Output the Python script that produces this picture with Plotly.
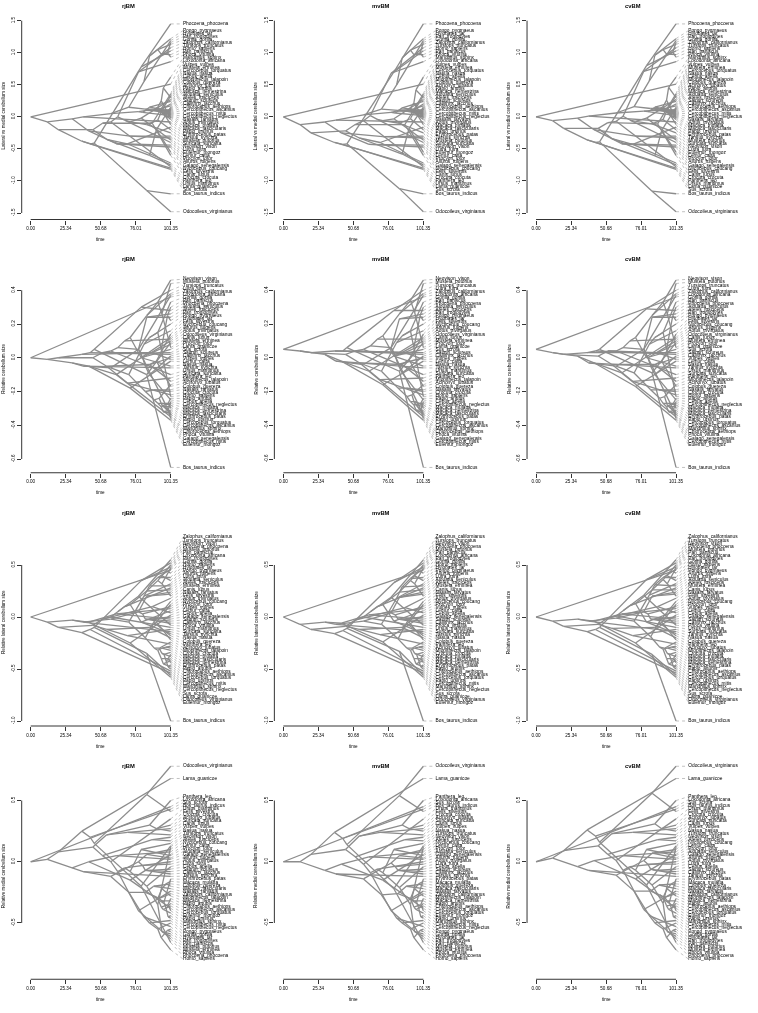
import plotly.graph_objects as go

# ---------------- tree topology (shared by all panels) ----------------
TIP_TIME = 101.35
NODES = ["Root", "Boreo", "Laura", "Cetart", "Artiof", "Cetrum", "Rumin", "Cetacea",
         "Carniv", "Feli", "Felid", "Felin", "Hyaen", "Cani", "Canid", "Arcto", "PinMus", "Pinn",
         "Mustel", "MusPro", "Procy", "Mustelid", "Mustela", "MustelaS",
         "Prim", "Strep", "Lemur", "Loris", "Haplo", "Anthro", "Platy", "Cebid", "CebCal", "CebSai", "Atelid",
         "Catar", "Hominoid", "Hominid", "Homin", "HomPan", "Pan",
         "Cercop", "Colob", "Cerc", "Papion", "Macaca", "Macaca2", "PapMC", "Papio", "ManCer",
         "Cercopini", "Cerc24", "Cerc25", "Cerc26", "Cerc27"]
NODE_PARENT = [None, "Root", "Boreo", "Laura", "Cetart", "Artiof", "Cetrum", "Cetrum",
               "Laura", "Carniv", "Feli", "Felid", "Feli", "Carniv", "Cani", "Cani", "Arcto", "PinMus",
               "PinMus", "Mustel", "MusPro", "MusPro", "Mustelid", "Mustela",
               "Boreo", "Prim", "Strep", "Strep", "Prim", "Haplo", "Anthro", "Platy", "Cebid", "CebCal", "Platy",
               "Anthro", "Catar", "Hominoid", "Hominid", "Homin", "HomPan",
               "Catar", "Cercop", "Cercop", "Cerc", "Papion", "Macaca", "Papion", "PapMC", "PapMC",
               "Cerc", "Cercopini", "Cerc24", "Cerc25", "Cerc26"]
NODE_TIME = [0.0, 12.0, 20.0, 37.0, 43.0, 46.0, 84.0, 80.0,
             45.0, 55.0, 86.0, 91.0, 70.0, 52.0, 88.0, 58.0, 63.0, 78.0,
             68.0, 72.0, 80.0, 84.0, 92.0, 95.0,
             30.0, 42.0, 72.0, 62.0, 38.0, 58.0, 78.0, 81.0, 83.0, 86.0, 84.0,
             71.0, 82.0, 86.0, 92.0, 94.5, 99.0,
             83.0, 89.0, 89.5, 92.0, 95.0, 98.0, 94.5, 99.5, 96.0,
             93.0, 95.0, 96.5, 98.0, 99.5]
TIPS = ["Loxodonta_africana", "Lama_guanicoe", "Sus_scrofa", "Bos_taurus_indicus", "Odocoileus_virginianus",
        "Phocoena_phocoena", "Tursiops_truncatus", "Panthera_leo", "Felis_silvestris", "Acinonyx_jubatus",
        "Crocuta_crocuta", "Suricata_suricatta", "Canis_lupus", "Vulpes_vulpes", "Ursus_maritimus",
        "Zalophus_californianus", "Phoca_vitulina", "Ailurus_fulgens", "Procyon_lotor", "Nasua_nasua",
        "Lutra_lutra", "Neovison_vison", "Mustela_putorius", "Mustela_erminea", "Eulemur_mongoz",
        "Lemur_catta", "Galago_senegalensis", "Nycticebus_coucang", "Tarsius_syrichta", "Aotus_trivirgatus",
        "Callithrix_jacchus", "Cebus_apella", "Saimiri_sciureus", "Ateles_fusciceps", "Alouatta_seniculus",
        "Hylobates_lar", "Pongo_pygmaeus", "Gorilla_gorilla", "Homo_sapiens", "Pan_troglodytes",
        "Pan_paniscus", "Colobus_guereza", "Nasalis_larvatus", "Macaca_nemestrina", "Macaca_mulatta",
        "Macaca_fascicularis", "Papio_anubis", "Papio_ursinus", "Mandrillus_sphinx", "Cercocebus_torquatus",
        "Miopithecus_talapoin", "Chlorocebus_aethiops", "Erythrocebus_patas", "Cercopithecus_ascanius",
        "Cercopithecus_mitis", "Cercopithecus_neglectus"]
TIP_PARENT = ["Root", "Cetart", "Artiof", "Rumin", "Rumin",
              "Cetacea", "Cetacea", "Felid", "Felin", "Felin",
              "Hyaen", "Hyaen", "Canid", "Canid", "Arcto",
              "Pinn", "Pinn", "Mustel", "Procy", "Procy",
              "Mustelid", "Mustela", "MustelaS", "MustelaS", "Lemur",
              "Lemur", "Loris", "Loris", "Haplo", "Cebid",
              "CebCal", "CebSai", "CebSai", "Atelid", "Atelid",
              "Hominoid", "Hominid", "Homin", "HomPan", "Pan",
              "Pan", "Colob", "Colob", "Macaca", "Macaca2",
              "Macaca2", "Papio", "Papio", "ManCer", "ManCer",
              "Cercopini", "Cerc24", "Cerc25", "Cerc26",
              "Cerc27", "Cerc27"]

# ---------------- tip values (one trait per row) ----------------
TRAIT_LATMED = {
    "Phocoena_phocoena": 1.45, "Pongo_pygmaeus": 1.22, "Hylobates_lar": 1.19, "Pan_troglodytes": 1.16,
    "Gorilla_gorilla": 1.13, "Zalophus_californianus": 1.08, "Tursiops_truncatus": 1.03, "Homo_sapiens": 0.97,
    "Pan_paniscus": 0.93, "Phoca_vitulina": 0.86, "Mandrillus_sphinx": 0.62, "Loxodonta_africana": 0.51,
    "Vulpes_vulpes": 0.36, "Mustela_erminea": 0.33, "Cercocebus_torquatus": 0.30, "Nasua_nasua": 0.27,
    "Cebus_apella": 0.24, "Miopithecus_talapoin": 0.20, "Colobus_guereza": 0.17, "Acinonyx_jubatus": 0.15,
    "Papio_anubis": 0.13, "Macaca_nemestrina": 0.12, "Alouatta_seniculus": 0.11, "Ateles_fusciceps": 0.10,
    "Saimiri_sciureus": 0.09, "Callithrix_jacchus": 0.08, "Chlorocebus_aethiops": 0.07,
    "Cercopithecus_ascanius": 0.06, "Cercopithecus_mitis": 0.05, "Cercopithecus_neglectus": 0.04,
    "Nasalis_larvatus": 0.03, "Aotus_trivirgatus": 0.02, "Macaca_mulatta": 0.01, "Macaca_fascicularis": 0.00,
    "Papio_ursinus": -0.02, "Erythrocebus_patas": -0.04, "Tarsius_syrichta": -0.08, "Mustela_putorius": -0.12,
    "Suricata_suricatta": -0.16, "Neovison_vison": -0.20, "Lutra_lutra": -0.25, "Eulemur_mongoz": -0.30,
    "Lemur_catta": -0.33, "Procyon_lotor": -0.36, "Ailurus_fulgens": -0.40, "Galago_senegalensis": -0.44,
    "Nycticebus_coucang": -0.47, "Felis_silvestris": -0.55, "Canis_lupus": -0.60, "Crocuta_crocuta": -0.72,
    "Panthera_leo": -0.75, "Ursus_maritimus": -0.78, "Lama_guanicoe": -0.80, "Sus_scrofa": -0.82,
    "Bos_taurus_indicus": -1.20, "Odocoileus_virginianus": -1.48}
TRAIT_REL = {
    "Neovison_vison": 0.46, "Mustela_putorius": 0.44, "Tursiops_truncatus": 0.40, "Lutra_lutra": 0.38,
    "Zalophus_californianus": 0.37, "Loxodonta_africana": 0.36, "Gorilla_gorilla": 0.33, "Pan_paniscus": 0.30,
    "Phocoena_phocoena": 0.28, "Alouatta_seniculus": 0.26, "Ateles_fusciceps": 0.24, "Pan_troglodytes": 0.22,
    "Pongo_pygmaeus": 0.20, "Hylobates_lar": 0.16, "Felis_silvestris": 0.14, "Nycticebus_coucang": 0.12,
    "Ailurus_fulgens": 0.11, "Aotus_trivirgatus": 0.10, "Odocoileus_virginianus": 0.09, "Canis_lupus": 0.08,
    "Mustela_erminea": 0.06, "Procyon_lotor": 0.05, "Lama_guanicoe": 0.03, "Sus_scrofa": 0.02,
    "Saimiri_sciureus": 0.01, "Callithrix_jacchus": 0.00, "Vulpes_vulpes": -0.01, "Lemur_catta": -0.02,
    "Nasua_nasua": -0.05, "Tarsius_syrichta": -0.06, "Ursus_maritimus": -0.10, "Suricata_suricatta": -0.12,
    "Panthera_leo": -0.14, "Miopithecus_talapoin": -0.16, "Acinonyx_jubatus": -0.17, "Colobus_guereza": -0.19,
    "Nasalis_larvatus": -0.20, "Crocuta_crocuta": -0.22, "Homo_sapiens": -0.23, "Papio_anubis": -0.24,
    "Cebus_apella": -0.25, "Cercopithecus_neglectus": -0.26, "Macaca_mulatta": -0.27,
    "Macaca_fascicularis": -0.28, "Macaca_nemestrina": -0.28, "Erythrocebus_patas": -0.29,
    "Papio_ursinus": -0.30, "Cercocebus_torquatus": -0.31, "Cercopithecus_ascanius": -0.32,
    "Chlorocebus_aethiops": -0.33, "Mandrillus_sphinx": -0.33, "Phoca_vitulina": -0.34,
    "Galago_senegalensis": -0.35, "Cercopithecus_mitis": -0.36, "Eulemur_mongoz": -0.37,
    "Bos_taurus_indicus": -0.65}
TRAIT_LAT = {
    "Zalophus_californianus": 0.55, "Tursiops_truncatus": 0.52, "Neovison_vison": 0.50,
    "Phocoena_phocoena": 0.48, "Mustela_putorius": 0.47, "Pan_paniscus": 0.46, "Loxodonta_africana": 0.45,
    "Pan_troglodytes": 0.42, "Gorilla_gorilla": 0.38, "Homo_sapiens": 0.35, "Hylobates_lar": 0.32,
    "Pongo_pygmaeus": 0.30, "Ailurus_fulgens": 0.28, "Lutra_lutra": 0.26, "Alouatta_seniculus": 0.24,
    "Ateles_fusciceps": 0.22, "Mustela_erminea": 0.20, "Canis_lupus": 0.18, "Nasalis_larvatus": 0.15,
    "Felis_silvestris": 0.12, "Aotus_trivirgatus": 0.10, "Nycticebus_coucang": 0.08, "Procyon_lotor": 0.06,
    "Vulpes_vulpes": 0.04, "Lemur_catta": 0.02, "Cebus_apella": 0.00, "Galago_senegalensis": -0.02,
    "Saimiri_sciureus": -0.04, "Callithrix_jacchus": -0.06, "Phoca_vitulina": -0.08, "Ursus_maritimus": -0.10,
    "Suricata_suricatta": -0.12, "Tarsius_syrichta": -0.14, "Nasua_nasua": -0.16, "Colobus_guereza": -0.18,
    "Panthera_leo": -0.20, "Acinonyx_jubatus": -0.22, "Miopithecus_talapoin": -0.24, "Crocuta_crocuta": -0.26,
    "Macaca_mulatta": -0.28, "Macaca_fascicularis": -0.30, "Macaca_nemestrina": -0.32,
    "Erythrocebus_patas": -0.34, "Papio_anubis": -0.36, "Chlorocebus_aethiops": -0.38,
    "Cercopithecus_ascanius": -0.40, "Cercocebus_torquatus": -0.42, "Papio_ursinus": -0.44,
    "Cercopithecus_mitis": -0.46, "Mandrillus_sphinx": -0.48, "Cercopithecus_neglectus": -0.50,
    "Sus_scrofa": -0.52, "Lama_guanicoe": -0.54, "Odocoileus_virginianus": -0.56, "Eulemur_mongoz": -0.58,
    "Bos_taurus_indicus": -1.00}
TRAIT_MED = {
    "Odocoileus_virginianus": 0.78, "Lama_guanicoe": 0.68, "Panthera_leo": 0.50, "Loxodonta_africana": 0.45,
    "Sus_scrofa": 0.43, "Bos_taurus_indicus": 0.41, "Ursus_maritimus": 0.35, "Felis_silvestris": 0.30,
    "Crocuta_crocuta": 0.27, "Acinonyx_jubatus": 0.25, "Suricata_suricatta": 0.22, "Canis_lupus": 0.20,
    "Vulpes_vulpes": 0.17, "Nasua_nasua": 0.15, "Tursiops_truncatus": 0.13, "Neovison_vison": 0.12,
    "Ateles_fusciceps": 0.10, "Nycticebus_coucang": 0.08, "Lemur_catta": 0.06, "Procyon_lotor": 0.05,
    "Alouatta_seniculus": 0.03, "Galago_senegalensis": 0.02, "Ailurus_fulgens": 0.00,
    "Aotus_trivirgatus": -0.02, "Lutra_lutra": -0.04, "Cebus_apella": -0.06, "Saimiri_sciureus": -0.08,
    "Callithrix_jacchus": -0.10, "Tarsius_syrichta": -0.12, "Erythrocebus_patas": -0.14,
    "Macaca_mulatta": -0.16, "Colobus_guereza": -0.18, "Macaca_fascicularis": -0.20,
    "Nasalis_larvatus": -0.22, "Zalophus_californianus": -0.24, "Miopithecus_talapoin": -0.26,
    "Macaca_nemestrina": -0.28, "Papio_anubis": -0.30, "Chlorocebus_aethiops": -0.32,
    "Cercopithecus_ascanius": -0.34, "Cercocebus_torquatus": -0.36, "Eulemur_mongoz": -0.38,
    "Papio_ursinus": -0.40, "Mandrillus_sphinx": -0.42, "Cercopithecus_mitis": -0.44,
    "Cercopithecus_neglectus": -0.46, "Pongo_pygmaeus": -0.48, "Gorilla_gorilla": -0.50,
    "Hylobates_lar": -0.53, "Pan_troglodytes": -0.55, "Pan_paniscus": -0.57, "Mustela_putorius": -0.59,
    "Mustela_erminea": -0.61, "Phoca_vitulina": -0.63, "Phocoena_phocoena": -0.66, "Homo_sapiens": -0.72}

# ---------------- reconstructed node values (order of NODES), one list per panel ----------------
LATMED_RJ = [0.00, -0.08, -0.20, -0.38, -0.42, -0.41, -1.15, 0.78,
             -0.20, -0.35, -0.60, -0.20, -0.42, -0.10, -0.10, -0.08, 0.00, 0.70, -0.05, -0.08, -0.02, -0.12, -0.05, 0.10,
             -0.03, -0.22, -0.30, -0.42, 0.00, 0.05, 0.08, 0.07, 0.10, 0.15, 0.10,
             0.15, 0.55, 0.95, 1.05, 0.98, 1.00,
             0.12, 0.10, 0.12, 0.15, 0.06, 0.00, 0.25, 0.05, 0.45, 0.10, 0.07, 0.05, 0.05, 0.045]
LATMED_MV = [0.00, -0.12, -0.25, -0.40, -0.43, -0.42, -1.12, 0.70,
             -0.22, -0.33, -0.58, -0.18, -0.40, -0.12, -0.12, -0.06, 0.02, 0.68, -0.04, -0.06, -0.03, -0.10, -0.03, 0.10,
             -0.08, -0.25, -0.31, -0.43, -0.05, 0.03, 0.07, 0.06, 0.09, 0.14, 0.10,
             0.12, 0.50, 0.92, 1.04, 0.97, 1.00,
             0.10, 0.09, 0.11, 0.14, 0.06, 0.01, 0.22, 0.05, 0.42, 0.09, 0.07, 0.04, 0.05, 0.045]
LATMED_CV = [0.00, -0.06, -0.18, -0.36, -0.40, -0.39, -1.16, 0.80,
             -0.18, -0.34, -0.61, -0.21, -0.43, -0.09, -0.11, -0.07, 0.01, 0.71, -0.05, -0.07, -0.02, -0.11, -0.04, 0.11,
             -0.02, -0.20, -0.30, -0.42, 0.01, 0.06, 0.09, 0.08, 0.10, 0.15, 0.10,
             0.16, 0.56, 0.96, 1.05, 0.98, 1.01,
             0.13, 0.11, 0.13, 0.16, 0.07, 0.00, 0.26, 0.05, 0.46, 0.11, 0.07, 0.05, 0.05, 0.045]
REL_RJ = [0.00, -0.01, 0.00, 0.02, 0.03, 0.05, -0.10, 0.30,
          0.00, -0.05, -0.04, -0.02, -0.15, 0.03, 0.03, 0.04, 0.06, 0.05, 0.10, 0.12, 0.00, 0.25, 0.33, 0.26,
          -0.03, -0.05, -0.18, -0.10, -0.05, -0.06, 0.05, 0.00, -0.05, -0.10, 0.24,
          -0.10, 0.08, 0.12, 0.15, 0.05, 0.25,
          -0.20, -0.19, -0.25, -0.27, -0.27, -0.27, -0.29, -0.27, -0.32, -0.24, -0.28, -0.29, -0.30, -0.31]
REL_MV = [0.05, 0.04, 0.03, 0.04, 0.04, 0.06, -0.08, 0.28,
          0.02, -0.03, -0.04, -0.01, -0.13, 0.04, 0.03, 0.05, 0.07, 0.06, 0.11, 0.13, 0.01, 0.26, 0.34, 0.27,
          0.02, -0.02, -0.16, -0.08, -0.02, -0.04, 0.06, 0.01, -0.04, -0.09, 0.23,
          -0.08, 0.09, 0.13, 0.16, 0.06, 0.25,
          -0.18, -0.18, -0.23, -0.26, -0.26, -0.27, -0.28, -0.27, -0.31, -0.22, -0.27, -0.28, -0.30, -0.31]
REL_CV = [0.05, 0.03, 0.02, 0.03, 0.04, 0.05, -0.09, 0.29,
          0.01, -0.04, -0.04, -0.02, -0.14, 0.04, 0.03, 0.04, 0.06, 0.05, 0.10, 0.12, 0.00, 0.25, 0.33, 0.26,
          0.01, -0.03, -0.17, -0.09, -0.03, -0.05, 0.05, 0.00, -0.05, -0.10, 0.24,
          -0.09, 0.08, 0.12, 0.15, 0.05, 0.25,
          -0.19, -0.19, -0.24, -0.27, -0.27, -0.27, -0.29, -0.27, -0.32, -0.23, -0.28, -0.29, -0.30, -0.31]
LAT_RJ = [0.00, -0.05, -0.10, -0.15, -0.12, -0.10, -0.35, 0.35,
          -0.08, -0.12, -0.10, -0.05, -0.18, -0.02, 0.10, 0.00, 0.05, 0.20, 0.10, 0.12, -0.05, 0.25, 0.35, 0.32,
          -0.03, -0.05, -0.25, 0.03, -0.05, -0.02, 0.05, 0.03, -0.02, -0.02, 0.20,
          -0.05, 0.20, 0.30, 0.38, 0.40, 0.44,
          -0.20, -0.05, -0.30, -0.32, -0.30, -0.29, -0.40, -0.40, -0.45, -0.30, -0.35, -0.36, -0.42, -0.48]
LAT_MV = [0.00, -0.07, -0.12, -0.16, -0.13, -0.11, -0.33, 0.33,
          -0.09, -0.12, -0.10, -0.05, -0.17, -0.03, 0.09, 0.00, 0.05, 0.19, 0.10, 0.12, -0.04, 0.24, 0.35, 0.32,
          -0.05, -0.06, -0.24, 0.02, -0.07, -0.04, 0.04, 0.02, -0.02, -0.02, 0.19,
          -0.07, 0.18, 0.29, 0.37, 0.40, 0.44,
          -0.21, -0.06, -0.30, -0.32, -0.30, -0.29, -0.40, -0.40, -0.45, -0.30, -0.35, -0.36, -0.42, -0.48]
LAT_CV = [0.00, -0.04, -0.09, -0.14, -0.12, -0.10, -0.36, 0.36,
          -0.07, -0.11, -0.10, -0.05, -0.18, -0.01, 0.10, 0.01, 0.06, 0.21, 0.11, 0.13, -0.05, 0.26, 0.36, 0.32,
          -0.02, -0.04, -0.25, 0.03, -0.04, -0.01, 0.05, 0.03, -0.02, -0.02, 0.20,
          -0.04, 0.21, 0.31, 0.38, 0.40, 0.44,
          -0.19, -0.05, -0.29, -0.31, -0.30, -0.29, -0.40, -0.40, -0.45, -0.30, -0.35, -0.36, -0.42, -0.48]
MED_RJ = [0.00, 0.02, 0.08, 0.25, 0.20, 0.15, 0.55, -0.20,
          0.12, 0.22, 0.30, 0.27, 0.24, 0.05, 0.18, 0.00, -0.08, -0.40, -0.05, -0.08, 0.10, -0.20, -0.35, -0.57,
          -0.05, 0.00, -0.15, 0.05, -0.08, -0.12, 0.00, -0.03, -0.07, -0.07, 0.06,
          -0.25, -0.45, -0.50, -0.55, -0.62, -0.56,
          -0.25, -0.20, -0.28, -0.30, -0.22, -0.18, -0.37, -0.35, -0.39, -0.30, -0.32, -0.33, -0.38, -0.45]
MED_MV = [0.00, 0.00, 0.06, 0.24, 0.19, 0.14, 0.54, -0.22,
          0.10, 0.21, 0.30, 0.27, 0.24, 0.04, 0.18, -0.02, -0.09, -0.40, -0.06, -0.09, 0.10, -0.21, -0.35, -0.57,
          -0.07, -0.02, -0.15, 0.04, -0.10, -0.14, -0.01, -0.04, -0.07, -0.07, 0.05,
          -0.27, -0.46, -0.50, -0.55, -0.62, -0.56,
          -0.26, -0.20, -0.29, -0.30, -0.22, -0.18, -0.37, -0.35, -0.39, -0.31, -0.32, -0.33, -0.38, -0.45]
MED_CV = [0.00, 0.03, 0.09, 0.26, 0.21, 0.16, 0.56, -0.19,
          0.13, 0.23, 0.31, 0.27, 0.24, 0.06, 0.18, 0.01, -0.07, -0.39, -0.04, -0.07, 0.10, -0.19, -0.34, -0.57,
          -0.04, 0.01, -0.14, 0.05, -0.07, -0.11, 0.01, -0.02, -0.06, -0.07, 0.07,
          -0.24, -0.44, -0.50, -0.55, -0.62, -0.56,
          -0.24, -0.19, -0.27, -0.29, -0.22, -0.18, -0.36, -0.35, -0.39, -0.29, -0.32, -0.33, -0.38, -0.45]

MODELS = ["rjBM", "mvBM", "cvBM"]
Y_LABELS = ["Lateral vs medial cerebellum size", "Relative cerebellum size",
            "Relative lateral cerebellum size", "Relative medial cerebellum size"]
ROW_TRAITS = [TRAIT_LATMED, TRAIT_REL, TRAIT_LAT, TRAIT_MED]
ROW_NODES = [[LATMED_RJ, LATMED_MV, LATMED_CV], [REL_RJ, REL_MV, REL_CV],
             [LAT_RJ, LAT_MV, LAT_CV], [MED_RJ, MED_MV, MED_CV]]
Y_TICKS = [[-1.5, -1.0, -0.5, 0.0, 0.5, 1.0, 1.5], [-0.6, -0.4, -0.2, 0.0, 0.2, 0.4],
           [-1.0, -0.5, 0.0, 0.5], [-0.5, 0.0, 0.5]]
X_TICKS = [0.0, 25.34, 50.68, 76.01, 101.35]
X_TICK_TEXT = ["0.00", "25.34", "50.68", "76.01", "101.35"]

# ---------------- layout geometry (pixels inside one panel) ----------------
W, H = 758, 1013
PW, PH = W / 3.0, H / 4.0
PLOT_L, PLOT_R = 21.7, 241.6
PLOT_T, PLOT_B = 3.0, 219.5
# per-row vertical calibration: (value, px) pairs
Y_CAL = [((1.5, 20.7), (-1.5, 213.0)), ((0.4, 37.0), (-0.6, 205.75)),
         ((0.0, 110.5), (-1.0, 214.5)), ((0.0, 102.0), (0.78, 6.5))]
X0_PX, XSCALE = 30.7, 140.0 / 101.35
X_RANGE = [(PLOT_L - X0_PX) / XSCALE, (PLOT_R - X0_PX) / XSCALE]
LABEL_GAP_PX = 3.06
CONN_END = 110.2
FONT = "Liberation Sans, Arial, Helvetica, sans-serif"
LINE_COL = "#8c8c8c"


def y_range(cal):
    (v1, p1), (v2, p2) = cal
    s = (p2 - p1) / (v2 - v1)
    top = v1 + (PLOT_T - p1) / s
    bot = v1 + (PLOT_B - p1) / s
    return [bot, top], abs(s)


def spread_labels(vals, gap):
    n = len(vals)
    order = sorted(range(n), key=lambda i: -vals[i])
    q = [vals[order[j]] + j * gap for j in range(n)]
    blocks = []
    for v in q:
        blocks.append([v, 1])
        while len(blocks) > 1 and blocks[-2][0] / blocks[-2][1] < blocks[-1][0] / blocks[-1][1]:
            s, c = blocks.pop()
            blocks[-1][0] += s
            blocks[-1][1] += c
    r = []
    for s, c in blocks:
        r += [s / c] * c
    pos = [0.0] * n
    for j in range(n):
        pos[order[j]] = r[j] - j * gap
    return pos


fig = go.Figure()
shapes, annotations = [], []
node_idx = {n: i for i, n in enumerate(NODES)}

for r in range(4):
    trait = ROW_TRAITS[r]
    assert set(trait) == set(TIPS)
    yr, px_per_unit = y_range(Y_CAL[r])
    for c in range(3):
        k = r * 3 + c + 1
        sfx = "" if k == 1 else str(k)
        xa, ya = "x" + sfx, "y" + sfx
        nodevals = ROW_NODES[r][c]
        assert len(nodevals) == len(NODES)
        xs, ys = [], []
        for i, n in enumerate(NODES):
            p = NODE_PARENT[i]
            if p is None:
                continue
            j = node_idx[p]
            xs += [NODE_TIME[j], NODE_TIME[i], None]
            ys += [nodevals[j], nodevals[i], None]
        tipvals = [trait[t] for t in TIPS]
        for i, t in enumerate(TIPS):
            j = node_idx[TIP_PARENT[i]]
            xs += [NODE_TIME[j], TIP_TIME, None]
            ys += [nodevals[j], tipvals[i], None]
        pos = spread_labels(tipvals, LABEL_GAP_PX / px_per_unit)
        cx, cy = [], []
        for i in range(len(TIPS)):
            cx += [TIP_TIME, CONN_END, None]
            cy += [tipvals[i], pos[i], None]
        fig.add_trace(go.Scatter(x=cx, y=cy, mode="lines", xaxis=xa, yaxis=ya, hoverinfo="skip",
                                 line=dict(color="#a8a8a8", width=0.7, dash="dot")))
        fig.add_trace(go.Scatter(x=xs, y=ys, mode="lines", xaxis=xa, yaxis=ya, hoverinfo="skip",
                                 line=dict(color=LINE_COL, width=1.3)))
        fig.add_trace(go.Scatter(x=[CONN_END] * len(TIPS), y=pos, text=TIPS, mode="text",
                                 textposition="middle right", xaxis=xa, yaxis=ya, cliponaxis=False,
                                 hoverinfo="skip", textfont=dict(size=4.8, color="black", family=FONT)))
        dx0 = (c * PW + PLOT_L) / W
        dx1 = (c * PW + PLOT_R) / W
        dy0 = 1 - (r * PH + PLOT_B) / H
        dy1 = 1 - (r * PH + PLOT_T) / H
        fig.update_layout(**{
            "xaxis" + sfx: dict(domain=[dx0, dx1], range=X_RANGE, anchor=ya, showgrid=False, zeroline=False,
                                showline=False, ticks="outside", ticklen=4, tickwidth=0.8, tickcolor="black",
                                tickvals=X_TICKS, ticktext=X_TICK_TEXT, fixedrange=True,
                                tickfont=dict(size=4.6, color="black", family=FONT)),
            "yaxis" + sfx: dict(domain=[dy0, dy1], range=yr, anchor=xa, showgrid=False, zeroline=False,
                                showline=False, ticks="outside", ticklen=4, tickwidth=0.8, tickcolor="black",
                                tickvals=Y_TICKS[r], ticktext=["%.1f" % v for v in Y_TICKS[r]], tickangle=-90,
                                fixedrange=True, tickfont=dict(size=4.6, color="black", family=FONT)),
        })
        shapes.append(dict(type="line", xref=xa, yref=ya + " domain", x0=X_TICKS[0], x1=X_TICKS[-1],
                           y0=0, y1=0, line=dict(color="black", width=0.8)))
        shapes.append(dict(type="line", xref=xa + " domain", yref=ya, x0=0, x1=0,
                           y0=Y_TICKS[r][0], y1=Y_TICKS[r][-1], line=dict(color="black", width=0.8)))
        annotations.append(dict(text="<b>%s</b>" % MODELS[c], xref="paper", yref="paper",
                                x=(c * PW + 128.0) / W, y=1 - (r * PH + 6.0) / H, showarrow=False,
                                xanchor="center", yanchor="middle",
                                font=dict(size=5.8, color="black", family=FONT)))
        annotations.append(dict(text="time", xref="paper", yref="paper",
                                x=(c * PW + X0_PX + 70) / W, y=1 - (r * PH + 239.5) / H, showarrow=False,
                                xanchor="center", yanchor="middle",
                                font=dict(size=4.6, color="black", family=FONT)))
        annotations.append(dict(text=Y_LABELS[r], xref="paper", yref="paper", textangle=-90,
                                x=(c * PW + 3.5) / W, y=1 - (r * PH + 116.0) / H, showarrow=False,
                                xanchor="center", yanchor="middle",
                                font=dict(size=4.6, color="black", family=FONT)))

fig.update_layout(width=W, height=H, margin=dict(l=0, r=0, t=0, b=0), showlegend=False,
                  paper_bgcolor="white", plot_bgcolor="white", shapes=shapes, annotations=annotations,
                  hovermode=False)
fig.write_html("out.html", config={"displayModeBar": False, "staticPlot": True},
               post_script="document.body.style.margin='0';document.body.style.filter='grayscale(1)';")
